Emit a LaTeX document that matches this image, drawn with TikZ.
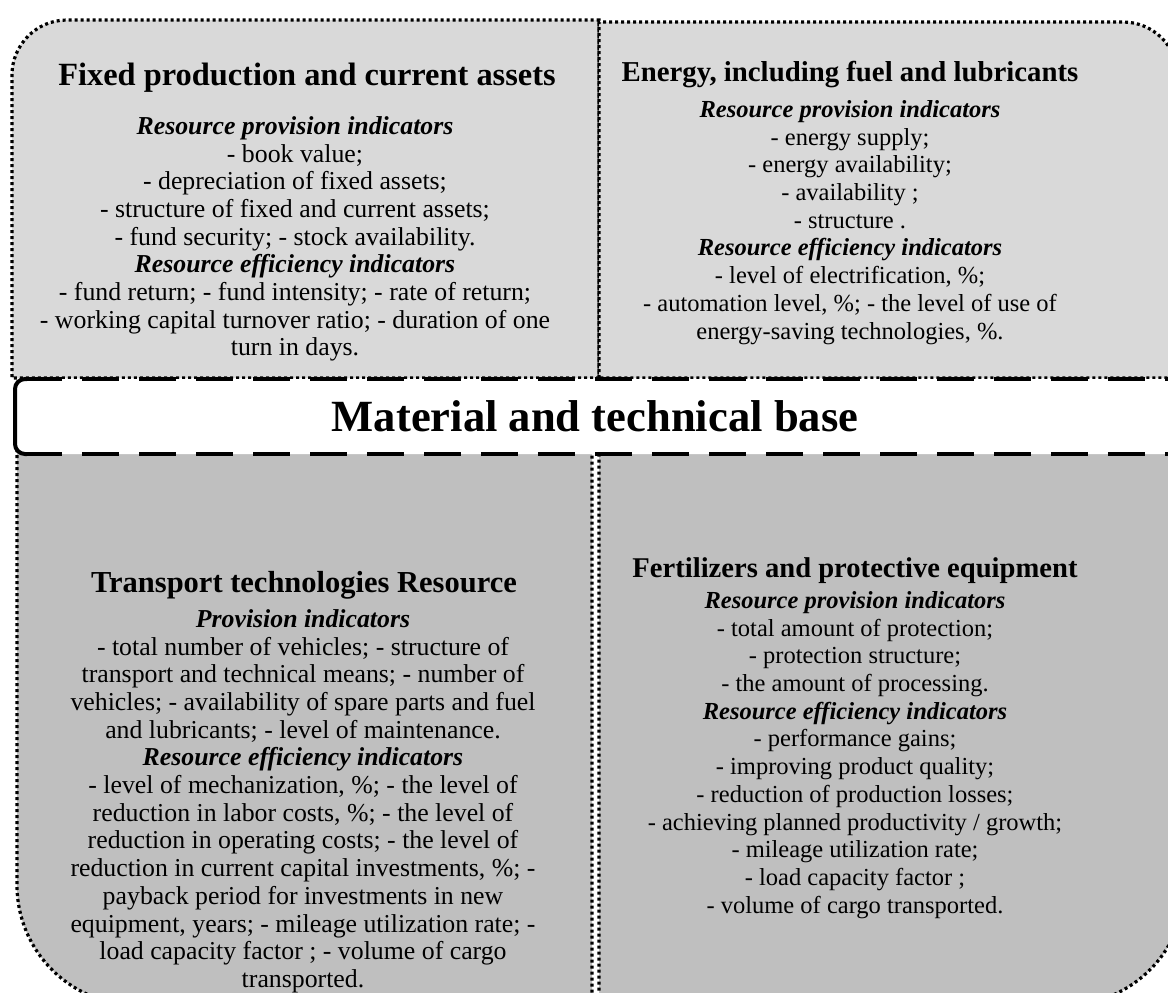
\documentclass[tikz,border=0pt]{standalone}
\usepackage{fontspec}
\setmainfont{Liberation Serif}
\usepackage{tikz}
\usetikzlibrary{positioning}
\definecolor{topgray}{RGB}{217,217,217}
\definecolor{lowgray}{RGB}{191,191,191}
\tikzset{
	panel/.style={draw=black,line width=1.6pt,dash pattern=on 1.5pt off 1.5pt},
	top panel/.style={panel,fill=topgray},
	low panel/.style={panel,fill=lowgray},
	band/.style={fill=white,rounded corners=5pt},
	band edge/.style={draw=black,line width=2pt,dash pattern=on 18.5pt off 10pt},
	band end/.style={draw=black,line width=2pt,rounded corners=5pt},
	head/.style={font=\fontsize{#1}{#1}\selectfont\bfseries,inner sep=0pt,anchor=base},
	body/.style={font=\fontsize{#1}{13.85}\selectfont,align=center,inner sep=0pt,anchor=north},
	title/.style={font=\fontsize{22.3}{26}\selectfont\bfseries,inner sep=0pt,anchor=base}
}
\newcommand{\subhead}[1]{\textbf{\textit{#1}}}

\begin{document}
\begin{tikzpicture}[x=0.5pt,y=-0.5pt]
	\useasboundingbox (0,0) rectangle (1168,992);
	\fill[white] (0,0) rectangle (1168,992);
	\clip (0,0) rectangle (1168,992);
	% four panels
	\draw[top panel] (599,378) -- (12,378) -- (12,75) arc (180:270:55) -- (599,20) -- cycle;
	\draw[top panel] (599,378) -- (599,22) -- (1123,22) arc (270:360:55) -- (1178,378) -- cycle;
	\draw[low panel] (592,430) -- (17,430) -- (17,885) arc (180:90:120) -- (592,1005) -- cycle;
	\draw[low panel] (599,430) -- (1185,430) -- (1185,885) arc (0:90:120) -- (599,1005) -- cycle;
	% middle band
	\fill[band] (15,379) rectangle (1200,454);
	\draw[band edge] (25,379) -- (1200,379);
	\draw[band edge] (25,454) -- (1200,454);
	\draw[band end] (27,379) -- (15,379) -- (15,454) -- (27,454);
	\node[title] (base) at (595,431) {Material and technical base};

	\node[head=16.2] (fixedhead) at (307,85) {Fixed production and current assets};
	\node[body=12.9] (fixedtext) at (295,116) {\subhead{Resource provision indicators}\\
		- book value;\\
		- depreciation of fixed assets;\\
		- structure of fixed and current assets;\\
		- fund security; - stock availability.\\
		\subhead{Resource efficiency indicators}\\
		- fund return; - fund intensity; - rate of return;\\
		- working capital turnover ratio; - duration of one\\
		turn in days.};

	\node[head=14.4] (energyhead) at (850,81) {Energy, including fuel and lubricants};
	\node[body=12.25] (energytext) at (850,100) {\subhead{Resource provision indicators}\\
		- energy supply;\\
		- energy availability;\\
		- availability ;\\
		- structure .\\
		\subhead{Resource efficiency indicators}\\
		- level of electrification, \%;\\
		- automation level, \%; - the level of use of\\
		energy-saving technologies, \%.};

	\node[head=15.25] (transhead) at (304,592) {Transport technologies Resource};
	\node[body=12.9] (transtext) at (303,609) {\subhead{Provision indicators}\\
		- total number of vehicles; - structure of\\
		transport and technical means; - number of\\
		vehicles; - availability of spare parts and fuel\\
		and lubricants; - level of maintenance.\\
		\subhead{Resource efficiency indicators}\\
		- level of mechanization, \%; - the level of\\
		reduction in labor costs, \%; - the level of\\
		reduction in operating costs; - the level of\\
		reduction in current capital investments, \%; -\\
		payback period for investments in new\\
		equipment, years; - mileage utilization rate; -\\
		load capacity factor ; - volume of cargo\\
		transported.};

	\node[head=14.3] (fertihead) at (855,577) {Fertilizers and protective equipment};
	\node[body=12.25] (fertitext) at (855,591) {\subhead{Resource provision indicators}\\
		- total amount of protection;\\
		- protection structure;\\
		- the amount of processing.\\
		\subhead{Resource efficiency indicators}\\
		- performance gains;\\
		- improving product quality;\\
		- reduction of production losses;\\
		- achieving planned productivity / growth;\\
		- mileage utilization rate;\\
		- load capacity factor ;\\
		- volume of cargo transported.};
\end{tikzpicture}
\end{document}
